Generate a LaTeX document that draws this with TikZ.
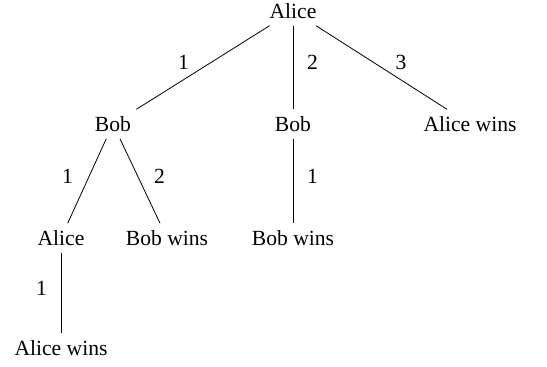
\documentclass[tikz,border=0pt]{standalone}
\usepackage{fontspec}
\setmainfont{Liberation Serif}
\usepackage{tikz}

\begin{document}
\begin{tikzpicture}[x=0.5pt,y=-0.5pt,font=\fontsize{10.8}{13}\selectfont,
    lblL/.style={midway,left=3.5pt,yshift=2.5pt},
    lblR/.style={midway,right=3.5pt,yshift=2.5pt}]
    \useasboundingbox (0,0) rectangle (547,367);
    % Draw game tree nodes
    \node (alice) at (293,11) {Alice};
    \node (bobL) at (113,124) {Bob};
    \node (bobM) at (293,124) {Bob};
    \node (awinR) at (470,124) {Alice wins};
    \node (aliceL) at (61,238) {Alice};
    \node (bwinL) at (167,238) {Bob wins};
    \node (bwinM) at (293,238) {Bob wins};
    \node (awinL) at (61,348) {Alice wins};
    % Draw moves
    \draw (alice) -- (bobL) node[lblL] {1};
    \draw (alice) -- (bobM) node[lblR] {2};
    \draw (alice) -- (awinR) node[lblR] {3};
    \draw (bobL) -- (aliceL) node[lblL] {1};
    \draw (bobL) -- (bwinL) node[lblR] {2};
    \draw (bobM) -- (bwinM) node[lblR] {1};
    \draw (aliceL) -- (awinL) node[lblL] {1};
\end{tikzpicture}
\end{document}
